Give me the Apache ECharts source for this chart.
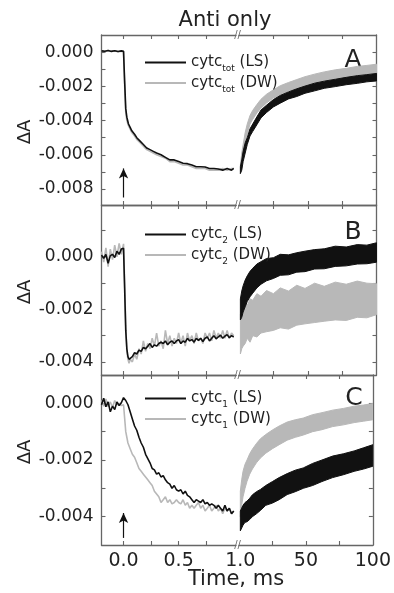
<!DOCTYPE html>
<html><head><meta charset="utf-8">
<script src="https://cdn.jsdelivr.net/npm/echarts@6/dist/echarts.min.js"></script>
<style>html,body{margin:0;padding:0;background:#fff}#c{width:394px;height:593px}</style>
</head><body><div id="c"></div>
<script>
// ---------- DATA ----------
// Panel A, left section (time in ms, -0.2 .. 1.0)
const tA = [-0.2, -0.17, -0.14, -0.11, -0.08, -0.05, -0.02, 0.0, 0.01, 0.02, 0.03, 0.045, 0.06, 0.075, 0.1, 0.12, 0.15, 0.18, 0.21, 0.24, 0.27, 0.3, 0.34, 0.38, 0.42, 0.46, 0.5, 0.54, 0.58, 0.62, 0.66, 0.7, 0.74, 0.78, 0.82, 0.86, 0.9, 0.94, 0.98, 1.0];
const aLS = [0.00008, 0.00006, 0.0001, 0.00005, 0.00009, 0.00004, 0.00008, 0.00005, -0.0017, -0.0033, -0.0038, -0.0042, -0.0044, -0.0046, -0.0048, -0.0050, -0.0052, -0.0054, -0.0056, -0.0057, -0.0058, -0.0059, -0.0060, -0.00615, -0.0063, -0.0063, -0.0064, -0.0065, -0.00652, -0.0066, -0.0067, -0.0067, -0.00672, -0.0068, -0.0068, -0.00683, -0.0069, -0.0068, -0.0069, -0.0068];
const aDW = [0.00009, 0.00005, 0.0001, 0.00007, 0.00008, 0.00003, 0.00006, 0.00004, -0.0019, -0.0035, -0.0040, -0.0043, -0.0045, -0.0047, -0.0049, -0.0051, -0.0053, -0.0055, -0.0057, -0.0058, -0.0059, -0.0060, -0.0061, -0.0062, -0.0064, -0.0064, -0.0065, -0.0066, -0.0066, -0.0067, -0.0068, -0.0068, -0.0068, -0.0069, -0.0069, -0.0069, -0.0068, -0.0069, -0.0068, -0.0068];
// Panel B, left section
const tB = [-0.2, -0.18, -0.16, -0.14, -0.12, -0.1, -0.08, -0.06, -0.04, -0.02, 0.0, 0.01, 0.02, 0.03, 0.04, 0.05, 0.06, 0.08, 0.1, 0.12, 0.14, 0.16, 0.18, 0.2, 0.22, 0.24, 0.26, 0.28, 0.3, 0.32, 0.34, 0.36, 0.38, 0.4, 0.42, 0.44, 0.46, 0.48, 0.5, 0.52, 0.54, 0.56, 0.58, 0.6, 0.62, 0.64, 0.66, 0.68, 0.7, 0.72, 0.74, 0.76, 0.78, 0.8, 0.82, 0.84, 0.86, 0.88, 0.9, 0.92, 0.94, 0.96, 0.98, 1.0];
const bLS = [0.00007, -0.00005, 0.0001, -0.00024, 0.00005, 0.0001, -0.00002, 0.00022, 0.0001, 0.0003, 0.00033, -0.0012, -0.0028, -0.0035, -0.0038, -0.0039, -0.00385, -0.0038, -0.00365, -0.0037, -0.00355, -0.0036, -0.00345, -0.0035, -0.0034, -0.0033, -0.00345, -0.00335, -0.0034, -0.0033, -0.00325, -0.0033, -0.0032, -0.00335, -0.00325, -0.0032, -0.0033, -0.0032, -0.00315, -0.0033, -0.0032, -0.00325, -0.0031, -0.0032, -0.00315, -0.00325, -0.0031, -0.00318, -0.0031, -0.00322, -0.0031, -0.00305, -0.0032, -0.0031, -0.003, -0.00312, -0.00305, -0.00298, -0.0031, -0.00302, -0.00296, -0.00308, -0.003, -0.00305];
const bDW = [0.0002, -0.0002, 0.00035, -0.00037, 0.0003, -0.0001, 0.00045, 0.0, 0.00052, 0.0001, 0.0005, -0.001, -0.0026, -0.0036, -0.0039, -0.00405, -0.0039, -0.004, -0.0037, -0.0039, -0.0035, -0.0037, -0.0032, -0.0036, -0.0033, -0.0035, -0.0031, -0.0034, -0.0029, -0.0034, -0.0032, -0.0035, -0.0028, -0.0033, -0.003, -0.0034, -0.0031, -0.0033, -0.0029, -0.0033, -0.003, -0.0034, -0.0029, -0.0032, -0.003, -0.0033, -0.0029, -0.0032, -0.0031, -0.0033, -0.0029, -0.0031, -0.0029, -0.0032, -0.0028, -0.0031, -0.0029, -0.0031, -0.0028, -0.0031, -0.0028, -0.0031, -0.0029, -0.003];
// Panel C, left section
const tC = [-0.2, -0.18, -0.16, -0.14, -0.12, -0.1, -0.08, -0.06, -0.04, -0.02, 0.0, 0.02, 0.04, 0.06, 0.08, 0.1, 0.12, 0.14, 0.16, 0.18, 0.2, 0.22, 0.24, 0.26, 0.28, 0.3, 0.32, 0.34, 0.36, 0.38, 0.4, 0.42, 0.44, 0.46, 0.48, 0.5, 0.52, 0.54, 0.56, 0.58, 0.6, 0.62, 0.64, 0.66, 0.68, 0.7, 0.72, 0.74, 0.76, 0.78, 0.8, 0.82, 0.84, 0.86, 0.88, 0.9, 0.92, 0.94, 0.96, 0.98, 1.0];
const cLS = [-0.00005, 0.00018, -0.00012, 0.00005, -0.0003, -0.0001, -0.00022, 0.00005, -0.00008, 0.00002, 0.0002, 0.0001, -0.00005, -0.0003, -0.00055, -0.0008, -0.00095, -0.0012, -0.0014, -0.00155, -0.0018, -0.00195, -0.0021, -0.0023, -0.00235, -0.0025, -0.00245, -0.0026, -0.00255, -0.0027, -0.0028, -0.00285, -0.003, -0.0029, -0.00305, -0.0031, -0.00305, -0.0032, -0.0031, -0.00325, -0.0033, -0.0034, -0.0035, -0.0034, -0.00345, -0.0035, -0.0034, -0.00355, -0.0035, -0.0036, -0.00355, -0.0036, -0.0037, -0.0036, -0.0037, -0.0038, -0.0036, -0.0038, -0.0037, -0.0039, -0.0038];
const cDW = [0.0001, -0.0001, 0.00015, -0.00012, 0.00005, -0.00015, 0.0001, -0.00005, 0.0, -0.00008, -0.00005, -0.001, -0.0014, -0.0016, -0.0018, -0.0019, -0.0021, -0.0023, -0.0024, -0.0025, -0.0026, -0.0027, -0.0028, -0.0029, -0.0031, -0.0032, -0.0033, -0.0035, -0.0034, -0.0033, -0.0035, -0.0034, -0.00355, -0.0035, -0.0034, -0.0035, -0.00355, -0.0034, -0.0036, -0.0035, -0.0037, -0.0036, -0.0037, -0.0036, -0.0035, -0.0037, -0.0036, -0.0038, -0.0037, -0.0036, -0.0038, -0.0037, -0.0036, -0.0038, -0.0037, -0.0039, -0.0037, -0.0038, -0.0037, -0.0039, -0.0038];
// Right sections (time 1 .. 100 ms): noisy traces given as lower / upper envelopes
const tR = [1, 2, 3, 4.5, 6, 8, 10, 13, 16, 20, 25, 30, 36, 42, 48, 55, 62, 70, 78, 86, 93, 100];
const aLSlo = [-0.0071, -0.0069, -0.0064, -0.0059, -0.0054, -0.0049, -0.00463, -0.00424, -0.00384, -0.00353, -0.0032, -0.00298, -0.00273, -0.00259, -0.0024, -0.00226, -0.00211, -0.00201, -0.0019, -0.00182, -0.00173, -0.00168];
const aLShi = [-0.0067, -0.0063, -0.0058, -0.0053, -0.0050, -0.00448, -0.0042, -0.00378, -0.00338, -0.0031, -0.00277, -0.00253, -0.00232, -0.00214, -0.00198, -0.00181, -0.00169, -0.00158, -0.00147, -0.00137, -0.00131, -0.00124];
const aDWlo = [-0.0071, -0.0065, -0.0060, -0.0053, -0.0048, -0.0042, -0.00392, -0.00355, -0.00327, -0.00297, -0.00268, -0.0025, -0.00227, -0.00213, -0.00194, -0.0018, -0.00166, -0.00153, -0.00146, -0.00135, -0.00128, -0.00121];
const aDWhi = [-0.0066, -0.0059, -0.0054, -0.0047, -0.0042, -0.0037, -0.0034, -0.00306, -0.00275, -0.00246, -0.0022, -0.00196, -0.00177, -0.0016, -0.00143, -0.00128, -0.00115, -0.00103, -0.00094, -0.00083, -0.00077, -0.0007];
const bLSlo = [-0.0024, -0.0023, -0.0021, -0.0019, -0.0017, -0.00152, -0.00138, -0.00118, -0.00104, -0.00091, -0.00082, -0.0007, -0.00068, -0.00058, -0.00056, -0.00046, -0.00045, -0.00036, -0.00034, -0.00027, -0.00026, -0.0002];
const bLShi = [-0.0016, -0.0013, -0.0011, -0.00088, -0.00072, -0.00055, -0.00043, -0.00027, -0.00018, -0.00006, -0.00003, 0.0001, 0.00008, 0.00016, 0.00022, 0.00028, 0.00031, 0.00041, 0.00038, 0.00047, 0.00045, 0.00054];
const bDWlo = [-0.0037, -0.0035, -0.0034, -0.0033, -0.0031, -0.00325, -0.0030, -0.00305, -0.0029, -0.00285, -0.0028, -0.0027, -0.00275, -0.0026, -0.00255, -0.0025, -0.00245, -0.0024, -0.00242, -0.0023, -0.00232, -0.0022];
const bDWhi = [-0.0022, -0.0020, -0.0019, -0.0017, -0.00185, -0.0016, -0.00165, -0.0014, -0.0015, -0.00128, -0.0014, -0.00118, -0.0013, -0.00108, -0.0012, -0.001, -0.00112, -0.00096, -0.00104, -0.00092, -0.0010, -0.00102];
const cLSlo = [-0.0045, -0.0044, -0.0043, -0.0042, -0.00418, -0.0041, -0.004, -0.0039, -0.00378, -0.0036, -0.00352, -0.0034, -0.00322, -0.00312, -0.003, -0.0029, -0.00276, -0.00262, -0.00252, -0.0024, -0.00232, -0.00222];
const cLShi = [-0.0038, -0.0037, -0.0036, -0.0035, -0.00345, -0.00335, -0.00323, -0.00312, -0.00304, -0.0029, -0.00276, -0.00262, -0.00248, -0.00236, -0.00228, -0.00212, -0.002, -0.00186, -0.00178, -0.00168, -0.00157, -0.00146];
const cDWlo = [-0.0040, -0.0036, -0.0033, -0.0030, -0.00275, -0.0025, -0.00232, -0.0021, -0.00193, -0.00176, -0.0016, -0.00146, -0.0013, -0.0012, -0.00112, -0.001, -0.00093, -0.00082, -0.00076, -0.00068, -0.00063, -0.00058];
const cDWhi = [-0.0031, -0.0027, -0.0024, -0.00215, -0.002, -0.00178, -0.00162, -0.00142, -0.00125, -0.0011, -0.00094, -0.0008, -0.00066, -0.00058, -0.00052, -0.0004, -0.00033, -0.00024, -0.00018, -0.0001, -0.00006, -0.00001];
// Axis tick labels
const xLeftLabels = [0, 0.5];
const xRightLabels = [1, 50, 100];
const xLeftTicks = [0, 0.25, 0.5, 0.75];
const xRightTicks = [25, 50, 75];
const yLabelsA = [0, -0.002, -0.004, -0.006, -0.008];
const yTicksA = [0, -0.001, -0.002, -0.003, -0.004, -0.005, -0.006, -0.007, -0.008];
const yLabelsB = [0, -0.002, -0.004];
const yTicksB = [0.001, 0, -0.001, -0.002, -0.003, -0.004];
const yLabelsC = [0, -0.002, -0.004];
const yTicksC = [0, -0.001, -0.002, -0.003, -0.004];
const subs = ['tot', '2', '1'];
const panelLetters = ['A', 'B', 'C'];

// ---------- LAYOUT / STYLE ----------
const FONT = 'DejaVu Sans';
const AX = '#666';
const BLACK = '#111';
const GRAY = '#b8b8b8';
const LEFT_X = 101.5, LEFT_W = 134.5, RIGHT_X = 239, RIGHT_W = 137.5;
const PANEL_TOP = [35, 205, 375], PANEL_H = 170;
const panels = [
  {ymin: -0.00894, ymax: 0.00101, yl: yLabelsA, yt: yTicksA, t: tA, ls: aLS, dw: aDW,
   rLSlo: aLSlo, rLShi: aLShi, rDWlo: aDWlo, rDWhi: aDWhi, arrow: [-0.0085, -0.0068], legTop: 50},
  {ymin: -0.0045, ymax: 0.00198, yl: yLabelsB, yt: yTicksB, t: tB, ls: bLS, dw: bDW,
   rLSlo: bLSlo, rLShi: bLShi, rDWlo: bDWlo, rDWhi: bDWhi, arrow: null, legTop: 222},
  {ymin: -0.005, ymax: 0.001, yl: yLabelsC, yt: yTicksC, t: tC, ls: cLS, dw: cDW,
   rLSlo: cLSlo, rLShi: cLShi, rDWlo: cDWlo, rDWhi: cDWhi, arrow: [-0.00475, -0.00387], legTop: 386}
];

const grid = [], xAxis = [], yAxis = [], series = [], legend = [];
const lineAx = {show: true, onZero: false, lineStyle: {color: AX, width: 1.3}};
function tickStyle(vals) { return {show: true, inside: true, length: 4, lineStyle: {color: AX, width: 1.1}, customValues: vals}; }
const labelFont = {fontFamily: FONT, fontSize: 17, color: '#222'};

panels.forEach((p, i) => {
  const top = PANEL_TOP[i];
  grid.push({left: LEFT_X, top: top, width: LEFT_W, height: PANEL_H});
  grid.push({left: RIGHT_X, top: top, width: RIGHT_W, height: PANEL_H});
  const last = i === 2;
  xAxis.push({type: 'value', gridIndex: 2 * i, min: -0.2, max: 1.0205, position: 'bottom', axisLine: lineAx,
    axisTick: tickStyle(xLeftTicks), splitLine: {show: false},
    axisLabel: {show: last, customValues: xLeftLabels, margin: 7, formatter: v => v.toFixed(1), fontFamily: FONT, fontSize: 19, color: '#222'}});
  xAxis.push({type: 'value', gridIndex: 2 * i, min: -0.2, max: 1.0205, position: 'top', axisLine: lineAx,
    axisTick: tickStyle(xLeftTicks), splitLine: {show: false}, axisLabel: {show: false}});
  xAxis.push({type: 'value', gridIndex: 2 * i + 1, min: 0, max: 100, position: 'bottom', axisLine: lineAx,
    axisTick: tickStyle(xRightTicks), splitLine: {show: false},
    axisLabel: {show: last, customValues: xRightLabels, margin: 7, formatter: v => (v === 1 ? '1.0' : String(v)), fontFamily: FONT, fontSize: 19, color: '#222'}});
  xAxis.push({type: 'value', gridIndex: 2 * i + 1, min: 0, max: 100, position: 'top', axisLine: lineAx,
    axisTick: tickStyle(xRightTicks), splitLine: {show: false}, axisLabel: {show: false}});
  yAxis.push({type: 'value', gridIndex: 2 * i, min: p.ymin, max: p.ymax, position: 'left', axisLine: lineAx,
    axisTick: tickStyle(p.yt), splitLine: {show: false},
    axisLabel: Object.assign({customValues: p.yl, margin: 8, formatter: v => v.toFixed(3)}, labelFont)});
  yAxis.push({type: 'value', gridIndex: 2 * i + 1, min: p.ymin, max: p.ymax, position: 'right', axisLine: lineAx,
    axisTick: tickStyle(p.yt), splitLine: {show: false}, axisLabel: {show: false}});

  const key = panelLetters[i];
  const xl = 4 * i, xr = 4 * i + 2, yl = 2 * i, yr = 2 * i + 1;
  [[p.rDWlo, p.rDWhi, GRAY], [p.rLSlo, p.rLShi, BLACK]].forEach(([lo, hi, col]) => {
    series.push({type: 'custom', xAxisIndex: xr, yAxisIndex: yr, clip: true, silent: true,
      data: [[tR[0], lo[0]]],
      renderItem: function (params, api) {
        const upper = tR.map((x, k) => api.coord([x, hi[k]]));
        const lower = tR.map((x, k) => api.coord([x, lo[k]])).reverse();
        return {type: 'polygon', shape: {points: upper.concat(lower)},
          style: {fill: col, stroke: col, lineWidth: 1}};
      }});
  });
  series.push({type: 'line', name: key + '_DW', xAxisIndex: xl, yAxisIndex: yl, symbol: 'none', silent: true,
    lineStyle: {color: GRAY, width: 1.6}, itemStyle: {color: GRAY},
    data: p.t.map((x, k) => [x, p.dw[k]])});
  const ls = {type: 'line', name: key + '_LS', xAxisIndex: xl, yAxisIndex: yl, symbol: 'none', silent: true,
    lineStyle: {color: BLACK, width: 1.6}, itemStyle: {color: BLACK},
    data: p.t.map((x, k) => [x, p.ls[k]])};
  if (p.arrow) {
    ls.markLine = {silent: true, symbol: ['none', 'arrow'], symbolSize: [7, 10], label: {show: false},
      lineStyle: {color: BLACK, width: 1.2, type: 'solid'},
      data: [[{coord: [0, p.arrow[0]]}, {coord: [0, p.arrow[1]]}]]};
  }
  series.push(ls);
  legend.push({orient: 'vertical', left: 140, top: p.legTop, itemWidth: 41, itemHeight: 2, itemGap: 2,
    icon: 'rect', data: [key + '_LS', key + '_DW'], selectedMode: false,
    formatter: name => '{b|cytc}{s|' + subs[i] + '}{b| (' + name.split('_')[1] + ')}',
    textStyle: {fontFamily: FONT, fontSize: 15, color: '#222',
      rich: {b: {fontFamily: FONT, fontSize: 15, color: '#222'},
             s: {fontFamily: FONT, fontSize: 9, color: '#222', padding: [13, 0, 0, 0]}}}});
});

const txt = (text, x, y, size, extra) => Object.assign({type: 'text', x: x, y: y, silent: true,
  style: {text: text, fontFamily: FONT, fontSize: size, fill: '#222', align: 'center', verticalAlign: 'middle'}}, extra || {});
const graphic = [
  txt('Anti only', 225, 21, 21),
  txt('Time, ms', 236, 580, 21),
  txt('A', 353, 60, 25), txt('B', 353, 232, 25), txt('C', 354, 398, 25),
  txt('ΔA', 25, 132, 18, {rotation: Math.PI / 2}),
  txt('ΔA', 25, 292, 18, {rotation: Math.PI / 2}),
  txt('ΔA', 25, 452, 18, {rotation: Math.PI / 2})
];
[35, 205, 375, 545].forEach(y => graphic.push({type: 'text', x: 237.5, y: y, silent: true,
  style: {text: '//', fontFamily: FONT, fontSize: 10, fill: AX, align: 'center', verticalAlign: 'middle'}}));

const chart = echarts.init(document.getElementById('c'));
chart.setOption({animation: false, backgroundColor: '#fff', grid, xAxis, yAxis, series, legend, graphic});
</script></body></html>
